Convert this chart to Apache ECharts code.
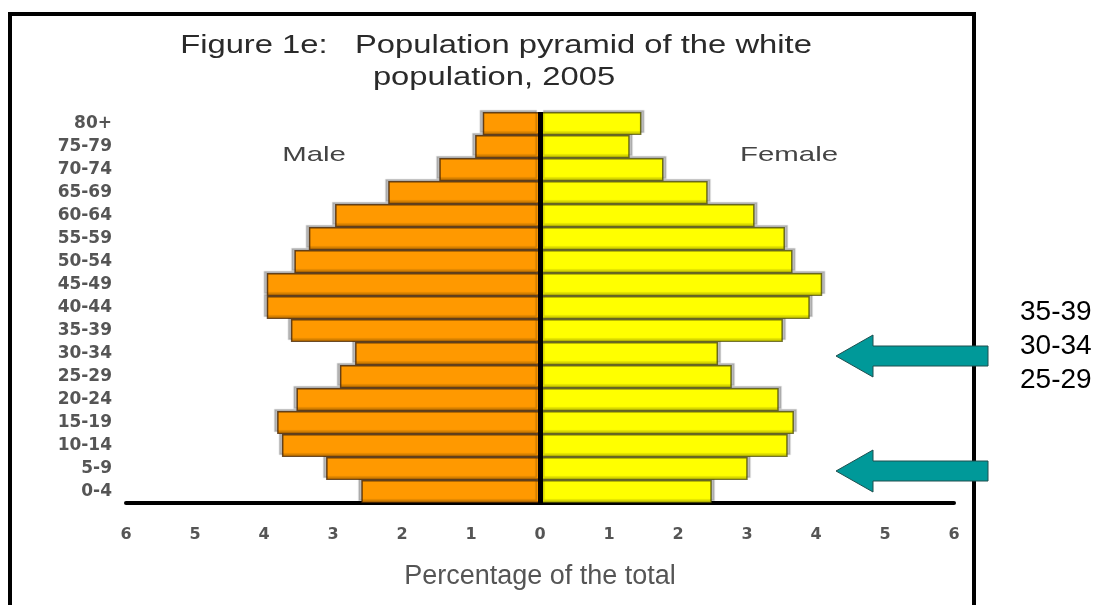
<!DOCTYPE html>
<html>
<head>
<meta charset="utf-8">
<script src="https://cdn.jsdelivr.net/npm/echarts@6/dist/echarts.min.js"></script>
<style>html,body{margin:0;padding:0;background:#fff}#c{width:1095px;height:605px}</style>
</head>
<body>
<div id="c"></div>
<script>
// Age groups, bottom to top
var categories = ['0-4','5-9','10-14','15-19','20-24','25-29','30-34','35-39','40-44','45-49','50-54','55-59','60-64','65-69','70-74','75-79','80+'];
// Percentage of total (male shown on the left)
var maleValues = [2.59, 3.10, 3.74, 3.81, 3.53, 2.90, 2.68, 3.61, 3.96, 3.96, 3.56, 3.35, 2.97, 2.20, 1.46, 0.94, 0.83];
var femaleValues = [2.49, 3.01, 3.59, 3.68, 3.46, 2.78, 2.58, 3.52, 3.91, 4.09, 3.66, 3.55, 3.11, 2.43, 1.79, 1.30, 1.47];
var xTicks = [-6, -5, -4, -3, -2, -1, 0, 1, 2, 3, 4, 5, 6];
var titleLines = ['Figure 1e:   Population pyramid of the white', 'population, 2005'];
var sideLabels = ['35-39', '30-34', '25-29'];

var chart = echarts.init(document.getElementById('c'), null, {renderer: 'canvas'});

function arrow(yc) {
  return {
    type: 'polygon',
    shape: {points: [[836, yc], [873, yc - 21], [873, yc - 10], [988, yc - 10], [988, yc + 10], [873, yc + 10], [873, yc + 21]]},
    style: {fill: '#009999', stroke: '#1f4f4f', lineWidth: 1},
    z: 10
  };
}

var graphics = [
  {type: 'rect', shape: {x: 10, y: 14, width: 964, height: 620}, style: {fill: 'none', stroke: '#000', lineWidth: 4}, z: 1},
  {type: 'text', x: 496, y: 46, scaleX: 1.31, style: {text: titleLines[0], font: '25px "Liberation Sans", Arial, sans-serif', fill: '#2a2a2a', textAlign: 'center', textVerticalAlign: 'middle'}},
  {type: 'text', x: 494, y: 78, scaleX: 1.31, style: {text: titleLines[1], font: '25px "Liberation Sans", Arial, sans-serif', fill: '#2a2a2a', textAlign: 'center', textVerticalAlign: 'middle'}},
  {type: 'text', x: 314, y: 155, scaleX: 1.4, style: {text: 'Male', font: '21px "Liberation Sans", Arial, sans-serif', fill: '#444', textAlign: 'center', textVerticalAlign: 'middle'}},
  {type: 'text', x: 789, y: 155, scaleX: 1.4, style: {text: 'Female', font: '21px "Liberation Sans", Arial, sans-serif', fill: '#444', textAlign: 'center', textVerticalAlign: 'middle'}},
  arrow(356),
  arrow(471)
];
sideLabels.forEach(function (t, i) {
  graphics.push({type: 'text', x: 1020, y: 312 + i * 34, style: {text: t, font: '28px "Liberation Sans", Arial, sans-serif', fill: '#000', textAlign: 'left', textVerticalAlign: 'middle'}});
});

var option = {
  animation: false,
  backgroundColor: '#fff',
  grid: {left: 126, right: 141, top: 112, bottom: 102, containLabel: false},
  xAxis: {
    type: 'value', min: xTicks[0], max: xTicks[xTicks.length - 1], interval: 1,
    axisLine: {show: true, onZero: false, lineStyle: {color: '#000', width: 4}},
    axisTick: {show: false},
    splitLine: {show: false},
    axisLabel: {margin: 24, color: '#555', fontSize: 16, fontWeight: 'bold', fontFamily: '"DejaVu Sans", sans-serif',
      formatter: function (v) { return String(Math.abs(v)); }},
    name: 'Percentage of the total', nameLocation: 'middle', nameGap: 60,
    nameTextStyle: {color: '#555', fontSize: 27, fontFamily: '"Liberation Sans", Arial, sans-serif'}
  },
  yAxis: {
    type: 'category', data: categories,
    axisLine: {show: false}, axisTick: {show: false},
    axisLabel: {margin: 14, color: '#555', fontSize: 17, fontWeight: 'bold', fontFamily: '"DejaVu Sans", sans-serif'}
  },
  series: [
    {
      name: 'Male', type: 'bar', stack: 'total', barCategoryGap: '0%',
      data: maleValues.map(function (v) { return -v; }),
      itemStyle: {color: '#FF9900', borderColor: 'rgba(70,35,0,0.8)', borderWidth: 1.5,
        shadowColor: 'rgba(0,0,0,0.25)', shadowOffsetX: -3, shadowOffsetY: -2, shadowBlur: 1}
    },
    {
      name: 'Female', type: 'bar', stack: 'total', barCategoryGap: '0%',
      data: femaleValues,
      itemStyle: {color: '#FFFF00', borderColor: 'rgba(70,70,0,0.75)', borderWidth: 1.5,
        shadowColor: 'rgba(0,0,0,0.25)', shadowOffsetX: 3, shadowOffsetY: -2, shadowBlur: 1},
      markLine: {
        silent: true, symbol: ['none', 'none'], label: {show: false},
        lineStyle: {color: '#000', width: 5, type: 'solid'},
        data: [{xAxis: 0}]
      }
    }
  ],
  graphic: graphics
};
chart.setOption(option);
</script>
</body>
</html>
